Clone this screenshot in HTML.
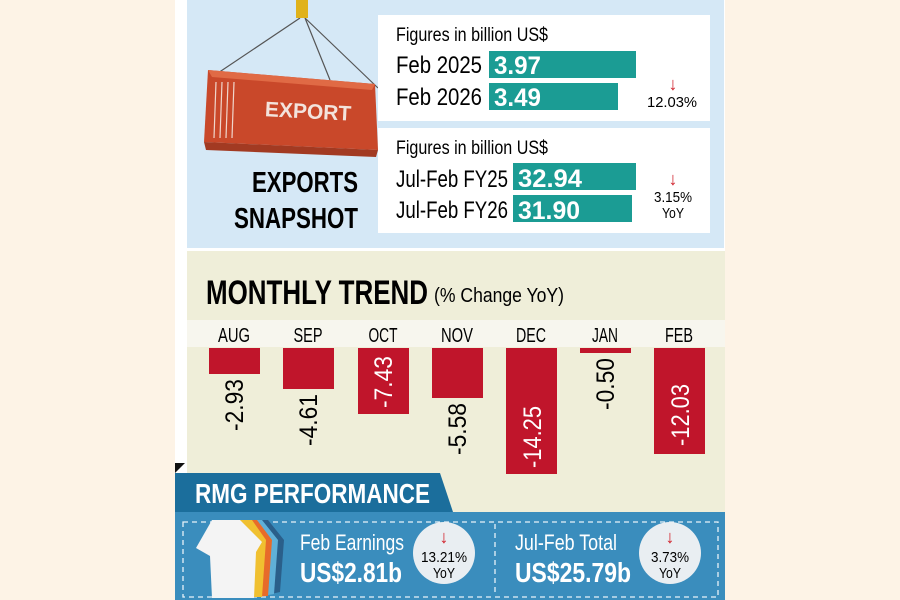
<!DOCTYPE html>
<html><head><style>
html,body{margin:0;padding:0;width:900px;height:600px;overflow:hidden;background:#fdf3e6}
svg{display:block}
text{font-family:"Liberation Sans Narrow","Liberation Sans",sans-serif}
</style></head><body>
<svg width="900" height="600" viewBox="0 0 900 600" xmlns="http://www.w3.org/2000/svg">
<rect x="0" y="0" width="900" height="600" fill="#fdf3e6"/>
<rect x="175" y="0" width="550" height="600" fill="#ffffff"/>
<rect x="187" y="0" width="537" height="248" fill="#d5e8f6"/>
<line x1="300" y1="18" x2="215" y2="75" stroke="#555" stroke-width="1.2"/>
<line x1="305" y1="18" x2="330" y2="80" stroke="#555" stroke-width="1.2"/>
<line x1="305" y1="18" x2="378" y2="88" stroke="#555" stroke-width="1.2"/>
<rect x="296" y="0" width="12" height="18" fill="#e0b21a"/>
<polygon points="208,70 375,84 378,150 204,142" fill="#c9482a"/>
<polygon points="208,70 375,84 372,90 212,77" fill="#e06a45"/>
<polygon points="204,142 378,150 376,157 206,150" fill="#a23a22"/>
<g stroke="#f0d6cc" stroke-width="1.2">
<line x1="216" y1="82" x2="214" y2="138"/><line x1="222" y1="82" x2="220" y2="138"/><line x1="228" y1="82" x2="226" y2="138"/><line x1="234" y1="82" x2="232" y2="138"/>
</g>
<text x="265" y="118" font-family="Liberation Sans" font-weight="bold" font-size="21" fill="#f3e3dc" transform="rotate(3 300 110)">EXPORT</text>
<text x="358" y="192" font-weight="bold" font-size="29" text-anchor="end" textLength="106" lengthAdjust="spacingAndGlyphs">EXPORTS</text>
<text x="358" y="228" font-weight="bold" font-size="29" text-anchor="end" textLength="124" lengthAdjust="spacingAndGlyphs">SNAPSHOT</text>
<rect x="378" y="15" width="332" height="106" fill="#fff"/>
<text x="396" y="41" font-size="19" textLength="152" lengthAdjust="spacingAndGlyphs">Figures in billion US$</text>
<text x="396" y="73" font-size="24" textLength="86" lengthAdjust="spacingAndGlyphs">Feb 2025</text>
<text x="396" y="105" font-size="24" textLength="86" lengthAdjust="spacingAndGlyphs">Feb 2026</text>
<rect x="489" y="51" width="147" height="27" fill="#1b9c94"/>
<rect x="489" y="83" width="129" height="27" fill="#1b9c94"/>
<text x="494" y="74" font-size="25" font-weight="bold" fill="#fff" textLength="47" lengthAdjust="spacingAndGlyphs">3.97</text>
<text x="494" y="106" font-size="25" font-weight="bold" fill="#fff" textLength="47" lengthAdjust="spacingAndGlyphs">3.49</text>
<text x="673" y="90" font-size="18" font-weight="bold" fill="#d0202a" text-anchor="middle">↓</text>
<text x="672" y="107" font-size="15" text-anchor="middle" textLength="50" lengthAdjust="spacingAndGlyphs">12.03%</text>
<rect x="378" y="128" width="332" height="105" fill="#fff"/>
<text x="396" y="154" font-size="19" textLength="152" lengthAdjust="spacingAndGlyphs">Figures in billion US$</text>
<text x="396" y="187" font-size="24" textLength="112" lengthAdjust="spacingAndGlyphs">Jul-Feb FY25</text>
<text x="396" y="218" font-size="24" textLength="112" lengthAdjust="spacingAndGlyphs">Jul-Feb FY26</text>
<rect x="513" y="163" width="123" height="27" fill="#1b9c94"/>
<rect x="513" y="195" width="119" height="27" fill="#1b9c94"/>
<text x="518" y="187" font-size="25" font-weight="bold" fill="#fff" textLength="64" lengthAdjust="spacingAndGlyphs">32.94</text>
<text x="518" y="219" font-size="25" font-weight="bold" fill="#fff" textLength="62" lengthAdjust="spacingAndGlyphs">31.90</text>
<text x="673" y="185" font-size="18" font-weight="bold" fill="#d0202a" text-anchor="middle">↓</text>
<text x="673" y="202" font-size="15" text-anchor="middle" textLength="38" lengthAdjust="spacingAndGlyphs">3.15%</text>
<text x="673" y="218" font-size="15" text-anchor="middle" textLength="22" lengthAdjust="spacingAndGlyphs">YoY</text>
<rect x="187" y="251" width="538" height="261" fill="#efeed9"/>
<text x="206" y="304" font-size="34" font-weight="bold" textLength="222" lengthAdjust="spacingAndGlyphs">MONTHLY TREND</text>
<text x="434" y="302" font-size="20" textLength="130" lengthAdjust="spacingAndGlyphs">(% Change YoY)</text>
<rect x="187" y="320" width="538" height="27" fill="#f7f6ee"/>
<g font-size="20" text-anchor="middle">
<text x="234" y="342" textLength="32" lengthAdjust="spacingAndGlyphs">AUG</text>
<text x="308" y="342" textLength="29" lengthAdjust="spacingAndGlyphs">SEP</text>
<text x="383" y="342" textLength="29" lengthAdjust="spacingAndGlyphs">OCT</text>
<text x="457" y="342" textLength="32" lengthAdjust="spacingAndGlyphs">NOV</text>
<text x="531" y="342" textLength="30" lengthAdjust="spacingAndGlyphs">DEC</text>
<text x="605" y="342" textLength="26" lengthAdjust="spacingAndGlyphs">JAN</text>
<text x="679" y="342" textLength="28" lengthAdjust="spacingAndGlyphs">FEB</text>
</g>
<g fill="#c0152b">
<rect x="209" y="348" width="51" height="26"/>
<rect x="283" y="348" width="51" height="41"/>
<rect x="358" y="348" width="51" height="66"/>
<rect x="432" y="348" width="51" height="50"/>
<rect x="506" y="348" width="51" height="126"/>
<rect x="580" y="348" width="51" height="5"/>
<rect x="654" y="348" width="51" height="106"/>
</g>
<g font-size="25">
<text transform="translate(243,431) rotate(-90)" textLength="52" lengthAdjust="spacingAndGlyphs">-2.93</text>
<text transform="translate(317,446) rotate(-90)" textLength="52" lengthAdjust="spacingAndGlyphs">-4.61</text>
<text transform="translate(392,408) rotate(-90)" fill="#fff" textLength="52" lengthAdjust="spacingAndGlyphs">-7.43</text>
<text transform="translate(466,455) rotate(-90)" textLength="52" lengthAdjust="spacingAndGlyphs">-5.58</text>
<text transform="translate(541,468) rotate(-90)" fill="#fff" textLength="62" lengthAdjust="spacingAndGlyphs">-14.25</text>
<text transform="translate(614,410) rotate(-90)" textLength="52" lengthAdjust="spacingAndGlyphs">-0.50</text>
<text transform="translate(689,446) rotate(-90)" fill="#fff" textLength="62" lengthAdjust="spacingAndGlyphs">-12.03</text>
</g>
<polygon points="175,463 185,463 175,473" fill="#111"/>
<polygon points="175,473 440,473 453,512 175,512" fill="#1b6e9c"/>
<text x="195" y="503" font-size="28" font-weight="bold" fill="#fff" textLength="235" lengthAdjust="spacingAndGlyphs">RMG PERFORMANCE</text>
<rect x="175" y="512" width="550" height="88" fill="#3a8dbd"/>
<rect x="183" y="522" width="535" height="75" fill="none" stroke="#e6f1f8" stroke-width="1.3" stroke-dasharray="5,4"/>
<line x1="495" y1="524" x2="495" y2="596" stroke="#e6f1f8" stroke-width="1.3" stroke-dasharray="5,4"/>
<polygon points="250,520 268,520 284,540 280,592 262,596" fill="#2a5f8a"/>
<polygon points="245,520 262,520 278,540 274,594 256,597" fill="#5fb0d8"/>
<polygon points="240,520 257,520 272,540 268,596 250,597" fill="#e76b2a"/>
<polygon points="235,520 252,520 266,540 262,597 245,597" fill="#f0c030"/>
<polygon points="212,520 240,520 262,542 256,552 254,598 212,598 210,556 196,548" fill="#f4f4f4"/>
<text x="300" y="550" font-size="22" fill="#fff" textLength="104" lengthAdjust="spacingAndGlyphs">Feb Earnings</text>
<text x="300" y="582" font-size="28" font-weight="bold" fill="#fff" textLength="102" lengthAdjust="spacingAndGlyphs">US$2.81b</text>
<circle cx="444" cy="553" r="31" fill="#e9eef2"/>
<text x="444" y="543" font-size="18" font-weight="bold" fill="#d0202a" text-anchor="middle">↓</text>
<text x="444" y="562" font-size="15" text-anchor="middle" textLength="46" lengthAdjust="spacingAndGlyphs">13.21%</text>
<text x="444" y="578" font-size="15" text-anchor="middle" textLength="22" lengthAdjust="spacingAndGlyphs">YoY</text>
<text x="515" y="550" font-size="22" fill="#fff" textLength="102" lengthAdjust="spacingAndGlyphs">Jul-Feb Total</text>
<text x="515" y="582" font-size="28" font-weight="bold" fill="#fff" textLength="116" lengthAdjust="spacingAndGlyphs">US$25.79b</text>
<circle cx="670" cy="553" r="31" fill="#e9eef2"/>
<text x="670" y="543" font-size="18" font-weight="bold" fill="#d0202a" text-anchor="middle">↓</text>
<text x="670" y="562" font-size="15" text-anchor="middle" textLength="38" lengthAdjust="spacingAndGlyphs">3.73%</text>
<text x="670" y="578" font-size="15" text-anchor="middle" textLength="22" lengthAdjust="spacingAndGlyphs">YoY</text>
</svg>
</body></html>
